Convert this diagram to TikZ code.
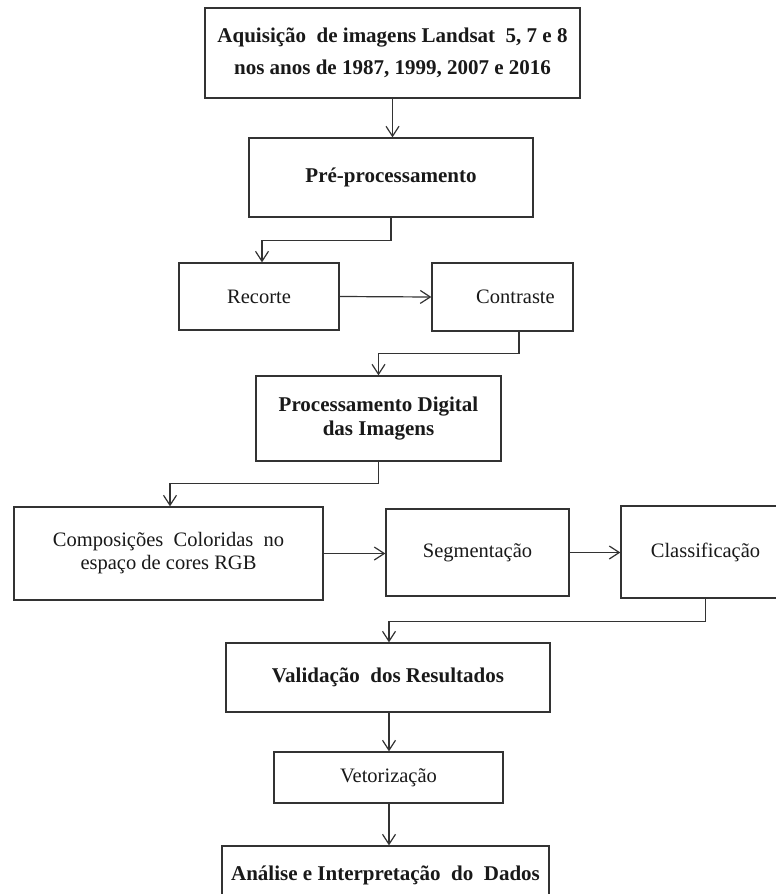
\documentclass[tikz,border=0pt]{standalone}
\usepackage{fontspec}
\setmainfont{Liberation Serif}
\usepackage{tikz}
\usetikzlibrary{arrows.meta, positioning, calc}

\begin{document}
\begin{tikzpicture}[
    x=1pt, y=-1pt,
    stepbox/.style={draw=black!80, line width=1.3pt, fill=white,
        inner sep=2pt, align=center, text=black!90,
        font=\fontsize{20.5}{24}\selectfont},
    boldbox/.style={stepbox, font=\fontsize{21}{24}\selectfont\bfseries},
    arr/.style={-{Straight Barb[length=10pt, width=13pt]}, line width=1.2pt, black!80},
]
\path[use as bounding box] (0,0) rectangle (776,894);

%% ========== MAIN BOXES ==========
\node[boldbox, minimum width=375, minimum height=90,
      font=\fontsize{21}{32}\selectfont\bfseries] (aq) at (392.5, 53)
    {Aquisição\ \ de imagens Landsat \ 5, 7 e 8\\nos anos de 1987, 1999, 2007 e 2016};
\node[boldbox, minimum width=284, minimum height=79] (pre) at (391, 177.5)
    {Pré-processamento};

\node[stepbox, minimum width=160, minimum height=67] (rec) at (259, 296.5) {Recorte};
\node[stepbox, minimum width=141, minimum height=68] (con) at (502.5, 297)
    {\hspace*{26pt}Contraste};

\node[boldbox, minimum width=245, minimum height=85] (pdi) at (378.5, 418.5)
    {Processamento Digital\\das Imagens};

\node[stepbox, minimum width=309, minimum height=93, font=\fontsize{20.5}{23}\selectfont] (comp) at (168.5, 553.5)
    {Composições\ \ Coloridas\ \ no\\espaço de cores RGB};
\node[stepbox, minimum width=183, minimum height=87] (seg) at (477.5, 552.5) {Segmentação};
\node[stepbox, minimum width=169, minimum height=92] (cla) at (705.5, 552) {Classificação};

\node[boldbox, minimum width=324, minimum height=69] (val) at (388, 677.5)
    {Validação\ \ dos Resultados};
\node[stepbox, minimum width=229, minimum height=51] (vet) at (388.5, 777.5) {Vetorização};
\node[boldbox, minimum width=327, minimum height=58] (ana) at (385.5, 875)
    {Análise e Interpretação\ \ do\ \ Dados};

%% ========== CONNECTORS ==========
\draw[arr] (aq.south) -- (aq.south |- pre.north);
\draw[arr] (pre.south) -- ++(0, 23) -| ([xshift=3pt]rec.north);
\draw[arr] (rec.east) -- (con.west);
\draw[arr] ([xshift=16.5pt]con.south) -- ++(0, 22) -| (pdi.north);
\draw[arr] (pdi.south) -- ++(0, 22) -| ([xshift=1.5pt]comp.north);
\draw[arr] (comp.east) -- (comp.east -| seg.west);
\draw[arr] (seg.east) -- (seg.east -| cla.west);
\draw[arr] (cla.south) -- ++(0, 23) -| ([xshift=1pt]val.north);
\draw[arr] ([xshift=1pt]val.south) -- ([xshift=1pt]val.south |- vet.north);
\draw[arr] ([xshift=0.5pt]vet.south) -- ([xshift=0.5pt]vet.south |- ana.north);
\end{tikzpicture}
\end{document}
